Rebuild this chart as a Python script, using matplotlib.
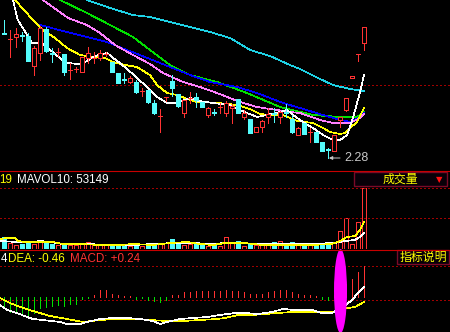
import matplotlib
matplotlib.use('Agg')
import matplotlib.pyplot as plt
from matplotlib.patches import Rectangle, Ellipse
import numpy as np

plt.rcParams['font.family'] = ['Liberation Sans', 'DejaVu Sans']

# ---------------- data ----------------
highs  = [3.66,3.56,3.58,3.54,3.53,3.40,3.60,3.59,3.38,3.38,3.32,3.23,3.19,3.29,3.39,3.34,3.36,3.34,3.24,3.13,
          3.13,3.10,3.06,2.98,2.96,2.86,2.77,2.89,3.11,2.92,2.86,2.94,2.93,2.84,2.79,2.77,2.83,2.85,2.82,2.87,
          2.76,2.67,2.59,2.66,2.78,2.78,2.75,2.82,2.71,2.59,2.63,2.58,2.54,2.44,2.38,2.51,2.69,2.88,3.10,3.32,3.59]
opens  = [3.53,3.47,3.49,3.51,3.50,3.20,3.33,3.57,3.33,3.34,3.32,3.16,3.17,3.14,3.28,3.28,3.28,3.32,3.24,3.13,
          3.07,3.04,3.04,2.95,2.96,2.83,2.70,2.89,3.05,2.92,2.73,2.88,2.89,2.84,2.71,2.74,2.79,2.73,2.78,2.87,
          2.69,2.67,2.54,2.59,2.69,2.73,2.69,2.74,2.67,2.51,2.63,2.54,2.54,2.44,2.37,2.35,2.66,2.76,3.08,3.32,3.43]
closes = [3.52,3.47,3.52,3.50,3.25,3.38,3.58,3.35,3.32,3.34,3.14,3.16,3.17,3.29,3.33,3.28,3.33,3.32,3.14,3.03,
          3.06,3.08,2.94,2.95,2.84,2.73,2.70,2.89,2.98,2.80,2.86,2.88,2.86,2.79,2.78,2.73,2.79,2.83,2.80,2.73,
          2.73,2.53,2.59,2.65,2.72,2.72,2.74,2.73,2.54,2.58,2.52,2.54,2.44,2.35,2.36,2.51,2.69,2.88,3.10,3.32,3.59]
lows   = [3.52,3.29,3.39,3.45,3.25,3.11,3.26,3.34,3.24,3.30,3.11,3.07,3.14,3.14,3.23,3.23,3.26,3.30,3.14,3.03,
          3.03,3.03,2.93,2.90,2.83,2.72,2.54,2.85,2.90,2.79,2.69,2.83,2.79,2.79,2.69,2.71,2.73,2.70,2.63,2.73,
          2.67,2.53,2.54,2.54,2.63,2.64,2.63,2.69,2.53,2.51,2.52,2.44,2.44,2.35,2.28,2.35,2.59,2.75,3.08,3.25,3.36]

volume = [38400,19200,12800,16000,19200,16000,22400,19200,16000,12800,16000,12800,12800,19200,22400,12800,
          12800,12800,12800,12800,9600,9600,16000,9600,12800,16000,19200,19200,32000,19200,12800,16000,16000,
          16000,9600,12800,9600,38400,22400,25600,9600,19200,12800,12800,16000,22400,25600,16000,22400,16000,
          9600,12800,16000,12800,12800,22400,57600,99200,16000,86400,195200]

macd = [-0.080,-0.120,-0.120,-0.128,-0.144,-0.128,-0.088,-0.080,-0.072,-0.064,-0.072,-0.056,-0.056,-0.016,
        -0.008,0.020,0.056,0.056,0.024,0.016,0.008,0.008,-0.012,-0.008,-0.024,-0.032,-0.040,-0.024,0.016,0.020,
        0.040,0.040,0.048,0.048,0.048,0.048,0.048,0.056,0.048,0.048,0.040,0.024,0.024,0.028,0.040,0.048,0.056,
        0.056,0.040,0.028,0.020,0.016,0.012,-0.012,-0.020,0.016,0.072,0.104,0.144,0.200,0.248]

# moving averages (sampled positions along the candle index, values)
ma5_x = [1.0,2.3,4.7,6.0,6.8,7.7,9.7,10.7,12.3,13.5,15.2,17.2,18.2,19.3,20.7,22.2,23.8,25.5,27.2,28.8,
         31.0,32.5,34.8,37.7,39.3,40.5,42.2,43.8,46.0,47.2,48.2,49.8,51.5,53.2,54.8,56.0,57.2,58.2,59.3,60.0]
ma5_v = [3.98,3.66,3.43,3.43,3.41,3.36,3.26,3.23,3.22,3.24,3.30,3.33,3.28,3.23,3.16,3.08,2.99,2.89,2.83,2.83,
         2.88,2.85,2.83,2.81,2.76,2.73,2.69,2.71,2.74,2.76,2.71,2.64,2.58,2.51,2.46,2.46,2.51,2.69,2.93,3.11]
ma10_x = [1.0,1.83,4.83,6.5,8.5,10.5,12.67,14.83,16.83,18.17,20.17,22.17,23.5,24.33,25.5,27.17,28.83,31.0,
          32.17,35.5,37.67,39.33,41.0,42.67,44.33,46.5,48.83,51.5,53.17,54.33,56.0,56.83,57.67,58.83,60.0]
ma10_v = [3.93,3.86,3.66,3.56,3.48,3.38,3.31,3.29,3.28,3.24,3.21,3.19,3.14,3.11,3.01,2.93,2.91,2.86,
          2.84,2.83,2.82,2.80,2.77,2.72,2.71,2.71,2.65,2.63,2.58,2.54,2.52,2.53,2.58,2.64,2.78]
ma20_x = [5.17,6.5,10.67,13.83,16.0,18.5,21.5,24.33,26.5,29.83,32.67,35.5,39.33,42.17,44.33,47.67,49.33,
          52.67,54.83,57.67,59.33,60.0]
ma20_v = [3.96,3.86,3.68,3.61,3.53,3.41,3.31,3.22,3.13,3.04,2.99,2.93,2.84,2.79,2.77,2.74,2.73,
          2.66,2.63,2.63,2.68,2.72]
ma30_x = [6.0,9.33,13.83,17.67,21.5,24.33,27.67,31.0,35.5,40.5,46.0,51.5,56.0,58.83,60.0]
ma30_v = [3.96,3.86,3.73,3.61,3.49,3.36,3.21,3.11,3.04,2.93,2.79,2.71,2.69,2.69,2.74]
ma60_x = [6.0,10.5,13.83,17.17,20.5,24.33,27.67,31.0,34.33,38.83,42.17,46.5,49.33,53.17,55.5,57.67,59.33,60.0]
ma60_v = [3.61,3.54,3.49,3.44,3.36,3.27,3.19,3.11,3.04,2.99,2.93,2.83,2.78,2.71,2.67,2.64,2.69,2.73]
ma120_x = [11.83,13.83,17.67,21.5,24.33,27.67,31.0,34.33,37.67,41.0,44.33,47.67,49.33,52.67,54.83,57.67,60.0]
ma120_v = [3.91,3.86,3.78,3.71,3.69,3.64,3.59,3.54,3.48,3.36,3.30,3.21,3.17,3.07,3.01,2.97,2.95]

mavol5_x = [-0.67,0.5,1.83,2.33,3.5,6.0,8.17,9.83,12.67,16.0,19.33,21.5,24.83,27.67,30.5,32.67,34.83,36.83,
            40.17,43.0,46.83,51.33,54.67,56.0,57.17,58.5,59.33,60.0]
mavol5_v = [32000,35200,35200,25600,22400,22400,22400,16000,16000,12800,12800,16000,12800,19200,22400,16000,
            12800,19200,19200,12800,12800,12800,16000,25600,38400,41600,60800,86400]
mavol10_x = [-0.67,2.17,4.83,6.0,7.67,9.83,13.83,17.67,21.5,24.83,28.17,31.5,34.83,36.83,43.5,50.67,55.17,
             56.83,58.5,59.33,60.0]
mavol10_v = [25600,22400,22400,25600,22400,16000,16000,12800,12800,16000,19200,19200,16000,19200,16000,16000,
             19200,25600,28800,38400,51200]

dif_x = [-0.67,0.5,2.17,3.83,4.83,6.5,9.33,10.5,12.67,13.83,16.0,18.17,20.5,22.67,24.83,26.0,27.17,29.33,
         31.5,33.83,36.0,38.5,40.17,42.33,44.67,46.5,48.5,51.33,53.0,54.67,57.17,58.0,59.0,60.0]
dif_v = [-0.064,-0.104,-0.128,-0.160,-0.176,-0.184,-0.200,-0.216,-0.216,-0.200,-0.176,-0.168,-0.168,-0.176,
         -0.192,-0.216,-0.200,-0.176,-0.168,-0.160,-0.144,-0.128,-0.128,-0.136,-0.120,-0.096,-0.104,-0.104,
         -0.128,-0.128,-0.056,-0.024,0.032,0.080]
dea_x = [-0.67,1.0,2.67,4.83,7.67,10.5,13.17,16.0,18.83,21.5,24.33,27.17,29.83,32.67,35.5,36.83,39.0,41.33,
         43.5,45.67,48.0,51.33,54.67,57.33,58.5,60.0]
dea_v = [-0.008,-0.048,-0.080,-0.112,-0.152,-0.176,-0.200,-0.184,-0.176,-0.176,-0.184,-0.192,-0.192,-0.184,
         -0.176,-0.168,-0.144,-0.144,-0.136,-0.128,-0.120,-0.120,-0.120,-0.088,-0.080,-0.040]

price_grid = 3.01
vol_grid = [99200, 195200]
macd_grid = [0.248, -0.024]
low_label = '2.28'

# ---------------- styling ----------------
RED = '#ff3232'
CYAN = '#54fcfc'
GRID = '#a00000'
SEP = '#c80000'
W, H = 450, 332
LW = 0.5

fig = plt.figure(figsize=(4.5, 3.32), dpi=100, facecolor='black')

def fx(px):
    return px / W

def fy(py):
    return 1 - py / H

ax_p = fig.add_axes([0, fy(171), 1, 171 / H])
ax_v = fig.add_axes([0, fy(249), 1, 78 / H])
ax_m = fig.add_axes([0, 0, 1, 82 / H])
for ax in (ax_p, ax_v, ax_m):
    ax.set_facecolor('black')
    ax.set_xlim(-0.667, 74.333)
    ax.set_xticks([])
    ax.set_yticks([])
    for s in ax.spines.values():
        s.set_visible(False)

ax_p.set_ylim(2.15, 3.86)
ax_v.set_ylim(0, 249600)
ax_m.set_ylim(-0.28, 0.376)

o = np.array(opens); c = np.array(closes); h = np.array(highs); l = np.array(lows)
x = np.arange(len(o))
up = c >= o
cols = np.where(up, RED, CYAN)
faces = np.where(up, 'black', CYAN)

# price panel
ax_p.axhline(price_grid, color=GRID, lw=LW, ls=(0, (1.5, 3)), antialiased=False)
ax_p.plot(ma120_x, ma120_v, color='#1ed2e6', lw=LW, antialiased=False)
ax_p.plot(ma30_x, ma30_v, color='#00e000', lw=LW, antialiased=False)
ax_p.plot(ma60_x, ma60_v, color='#0000ff', lw=LW, antialiased=False)
ax_p.plot(ma20_x, ma20_v, color='#ff80ff', lw=LW, antialiased=False)
ax_p.plot(ma10_x, ma10_v, color='#ffff00', lw=LW, antialiased=False)
ax_p.plot(ma5_x, ma5_v, color='white', lw=LW, antialiased=False)
ax_p.vlines(x, l, h, colors=cols, lw=LW, zorder=3, antialiased=False)
ax_p.bar(x, np.abs(c - o), bottom=np.minimum(o, c), width=0.8, color=faces,
         edgecolor=cols, lw=LW, zorder=4, antialiased=False)
ilow = int(np.argmin(l))
ax_p.annotate(low_label, xy=(ilow + 0.15, l[ilow]), xytext=(11, 0), textcoords='offset points',
              ha='left', va='center', color='#c8c8c8', fontsize=9,
              arrowprops=dict(arrowstyle='-|>', color='#c8c8c8', lw=0.7, shrinkA=1, shrinkB=0,
                              mutation_scale=5))

# volume panel
for g in vol_grid:
    ax_v.axhline(g, color=GRID, lw=LW, ls=(0, (1.5, 3)), antialiased=False)
ax_v.bar(x, volume, width=0.8, color=faces, edgecolor=cols, lw=LW, antialiased=False)
ax_v.plot(mavol10_x, mavol10_v, color='white', lw=LW, antialiased=False)
ax_v.plot(mavol5_x, mavol5_v, color='#ffff00', lw=LW, antialiased=False)

# macd panel
for g in macd_grid:
    ax_m.axhline(g, color=GRID, lw=LW, ls=(0, (1.5, 3)), antialiased=False)
m = np.array(macd)
ax_m.vlines(x, 0, m, colors=np.where(m > 0, RED, '#00e000'), lw=LW, antialiased=False)
ax_m.plot(dea_x, dea_v, color='#ffff00', lw=LW, antialiased=False)
ax_m.plot(dif_x, dif_v, color='white', lw=LW, antialiased=False)

# separators
for py in (171, 249.5):
    fig.add_artist(plt.Line2D([0, 1], [fy(py), fy(py)], color=SEP, lw=0.8, transform=fig.transFigure))

# header texts
fs = 8.4
fig.text(fx(12), fy(183), '19', color='#ffff00', fontsize=fs, ha='right', va='baseline')
fig.text(fx(17), fy(183), 'MAVOL10: 53149', color='white', fontsize=fs, ha='left', va='baseline')
fig.text(fx(0.5), fy(262), '4', color='white', fontsize=fs, ha='left', va='baseline')
fig.text(fx(8), fy(262), 'DEA: -0.46', color='#ffff00', fontsize=fs, ha='left', va='baseline')
fig.text(fx(70), fy(262), 'MACD: +0.24', color=RED, fontsize=fs, ha='left', va='baseline')

cjk = ['Noto Sans CJK SC', 'DejaVu Sans']
fig.add_artist(Rectangle((fx(354), fy(186)), fx(93), 14 / H, transform=fig.transFigure,
                         facecolor='#080008', edgecolor='#7a0a28', lw=1.0))
fig.text(fx(400), fy(179.5), '成交量', color='#ffff00', fontsize=8.6, ha='center', va='center', family=cjk)
fig.text(fx(439), fy(179.5), '▼', color='#ff1010', fontsize=6, ha='center', va='center', family=['DejaVu Sans'])
fig.add_artist(Rectangle((fx(397), fy(264)), fx(52), 14 / H, transform=fig.transFigure,
                         facecolor='#080008', edgecolor='#7a0a28', lw=1.0))
fig.text(fx(423), fy(257.5), '指标说明', color='#ffff00', fontsize=8.6, ha='center', va='center', family=cjk)

# magenta marker over the MACD panel
fig.add_artist(Ellipse((fx(340.5), fy(291)), fx(13), 84 / H, transform=fig.transFigure,
                       facecolor='#ff00ff', edgecolor='none'))

fig.savefig('out.png', dpi=100, facecolor='black')
